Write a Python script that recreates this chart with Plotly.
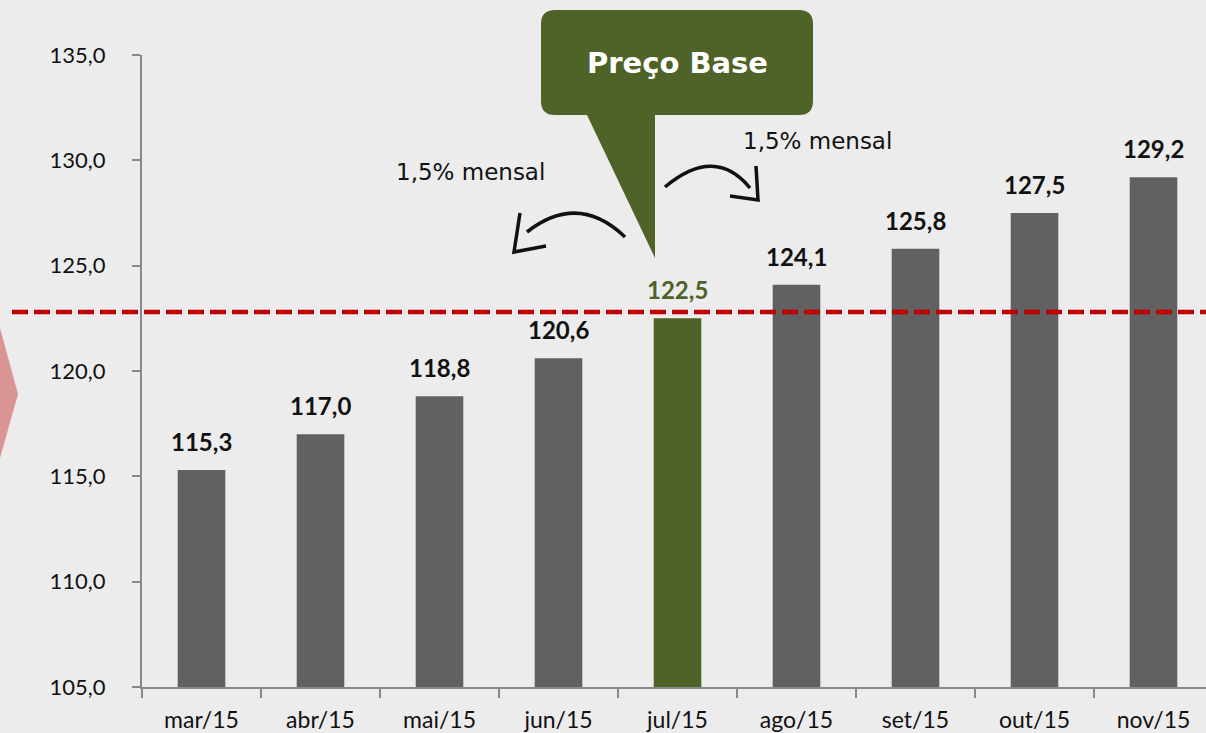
import plotly.graph_objects as go

categories = ["mar/15", "abr/15", "mai/15", "jun/15", "jul/15", "ago/15", "set/15", "out/15", "nov/15"]
values = [115.3, 117.0, 118.8, 120.6, 122.5, 124.1, 125.8, 127.5, 129.2]
base_index = 4
base_line = 122.8
y_ticks = [105, 110, 115, 120, 125, 130, 135]

W, H = 1206, 733
L, R, T, B = 142, 0, 55, 46
PW, PH = W - L - R, H - T - B

def px(x):
    return (x - L) / PW

def py(y):
    return (H - B - y) / PH

GREY = "#616161"
GREEN = "#4F6228"
colors = [GREEN if i == base_index else GREY for i in range(len(values))]
text_colors = [GREEN if i == base_index else "#111111" for i in range(len(values))]

fig = go.Figure()
fig.add_trace(go.Bar(
    x=categories, y=values, width=0.4,
    marker=dict(color=colors, line=dict(width=0)),
    showlegend=False, hoverinfo="x+y",
))

shapes = []
# red dashed base line
shapes.append(dict(type="line", xref="paper", yref="y", x0=px(12), x1=px(1206),
                   y0=base_line, y1=base_line,
                   line=dict(color="#C00000", width=4.5, dash="16px,6px"), layer="above"))
# left pink chevron
shapes.append(dict(type="path", xref="paper", yref="paper",
                   path=f"M {px(0)},{py(328)} L {px(18)},{py(394)} L {px(0)},{py(458)} Z",
                   fillcolor="#D99594", line=dict(width=0), layer="below"))

# callout box with rounded corners
x0, x1, y0, y1, r = 541, 813, 10, 115, 14
def P(x, y):
    return f"{px(x)},{py(y)}"
path = (f"M {P(x0+r, y0)} L {P(x1-r, y0)} Q {P(x1, y0)} {P(x1, y0+r)} "
        f"L {P(x1, y1-r)} Q {P(x1, y1)} {P(x1-r, y1)} "
        f"L {P(655, y1)} L {P(655, 258)} L {P(587, y1)} "
        f"L {P(x0+r, y1)} Q {P(x0, y1)} {P(x0, y1-r)} "
        f"L {P(x0, y0+r)} Q {P(x0, y0)} {P(x0+r, y0)} Z")
shapes.append(dict(type="path", xref="paper", yref="paper", path=path,
                   fillcolor=GREEN, line=dict(width=0), layer="above"))

# hand-drawn style arrows
arrow_line = dict(color="#111111", width=3.5)
shapes.append(dict(type="path", xref="paper", yref="paper",
                   path=f"M {P(625, 237)} Q {P(578, 192)} {P(527, 232)}",
                   line=arrow_line))
shapes.append(dict(type="path", xref="paper", yref="paper",
                   path=f"M {P(520, 213)} L {P(514, 252)} L {P(546, 246)}",
                   line=arrow_line))
shapes.append(dict(type="path", xref="paper", yref="paper",
                   path=f"M {P(665, 187)} Q {P(715, 145)} {P(750, 188)}",
                   line=arrow_line))
shapes.append(dict(type="path", xref="paper", yref="paper",
                   path=f"M {P(756, 166)} L {P(758, 200)} L {P(730, 196)}",
                   line=arrow_line))

annotations = [
    dict(x=px(677), y=py(63), xref="paper", yref="paper", text="<b>Preço Base</b>",
         showarrow=False, font=dict(family="DejaVu Sans", size=29, color="white"),
         xanchor="center", yanchor="middle"),
    dict(x=px(470), y=py(172), xref="paper", yref="paper", text="1,5% mensal",
         showarrow=False, font=dict(family="DejaVu Sans", size=23, color="#111111"),
         xanchor="center", yanchor="middle"),
    dict(x=px(817), y=py(141), xref="paper", yref="paper", text="1,5% mensal",
         showarrow=False, font=dict(family="DejaVu Sans", size=23, color="#111111"),
         xanchor="center", yanchor="middle"),
]
for cat, val, tc in zip(categories, values, text_colors):
    annotations.append(dict(
        x=cat, y=val, xref="x", yref="y",
        text=f"<b>{val:.1f}</b>".replace(".", ","),
        showarrow=False, yanchor="bottom", xanchor="center", yshift=12,
        font=dict(family="Lato", size=24, color=tc),
    ))

fig.update_layout(
    width=W, height=H,
    margin=dict(l=L, r=R, t=T, b=B, pad=0),
    paper_bgcolor="#ECECEC", plot_bgcolor="rgba(0,0,0,0)",
    separators=",.",
    shapes=shapes, annotations=annotations,
    bargap=0.6,
)
fig.update_xaxes(
    type="category", range=[-0.5, -0.5 + PW / 119.0],
    showline=True, linecolor="#898989", linewidth=2,
    ticks="outside", ticklen=9, tickcolor="#898989", tickwidth=2,
    tickson="boundaries", showgrid=False,
    tickfont=dict(family="Lato", size=23, color="#111111"),
    ticklabelstandoff=11,
)
fig.update_yaxes(
    range=[105, 135], tickvals=y_ticks, tickformat=".1f",
    showline=True, linecolor="#898989", linewidth=2,
    ticks="outside", ticklen=8, tickcolor="#898989", tickwidth=2,
    showgrid=False, zeroline=False,
    tickfont=dict(family="Lato", size=22, color="#111111"),
    ticklabelstandoff=22,
)

fig.write_html("out.html", config={"displayModeBar": False},
               post_script="document.body.style.margin='0';document.body.style.padding='0';document.body.style.overflow='hidden';")
